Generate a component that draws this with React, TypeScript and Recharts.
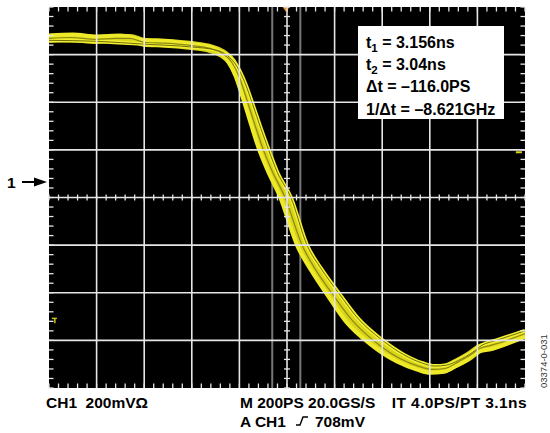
import React from "react";
import {
  ComposedChart,
  Line,
  Scatter,
  XAxis,
  YAxis,
  ReferenceArea,
  ReferenceLine,
} from "recharts";

// Time axis in divisions (200 ps/div), centre = 0; voltage in divisions (200 mV/div)
const xMajor = [-4, -3, -2, -1, 0, 1, 2, 3, 4];
const yMajor = [-3, -2, -1, 0, 1, 2, 3];
const cursorX = [-0.31, 0.28];
const xDivs = 10;
const yDivs = 8;
const minorPerDiv = 5;

// Main envelope of the persisted falling-edge waveform
const traceMain = [
  { x: -5.0, y: 3.34 }, { x: -4.56, y: 3.36 }, { x: -4.01, y: 3.32 }, { x: -3.61, y: 3.34 },
  { x: -3.3, y: 3.34 }, { x: -3.0, y: 3.26 }, { x: -2.56, y: 3.24 }, { x: -2.0, y: 3.19 },
  { x: -1.62, y: 3.13 }, { x: -1.37, y: 3.03 }, { x: -1.16, y: 2.84 }, { x: -0.99, y: 2.5 },
  { x: -0.84, y: 2.04 }, { x: -0.67, y: 1.51 }, { x: -0.5, y: 1.01 }, { x: -0.32, y: 0.57 },
  { x: -0.04, y: 0.0 }, { x: 0.32, y: -1.01 }, { x: 0.61, y: -1.53 }, { x: 0.95, y: -2.02 },
  { x: 1.37, y: -2.58 }, { x: 1.85, y: -3.03 }, { x: 2.37, y: -3.38 }, { x: 2.79, y: -3.55 },
  { x: 3.05, y: -3.61 }, { x: 3.32, y: -3.59 }, { x: 3.53, y: -3.49 }, { x: 3.84, y: -3.32 },
  { x: 4.05, y: -3.17 }, { x: 4.26, y: -3.11 }, { x: 4.47, y: -3.05 }, { x: 4.73, y: -2.96 },
  { x: 5.0, y: -2.86 },
];

// Later acquisitions
const traceLate = [
  { x: -5.0, y: 3.3 }, { x: -4.0, y: 3.28 }, { x: -3.0, y: 3.22 }, { x: -2.0, y: 3.16 },
  { x: -1.5, y: 3.1 }, { x: -1.25, y: 2.98 }, { x: -1.05, y: 2.75 }, { x: -0.88, y: 2.4 },
  { x: -0.72, y: 1.95 }, { x: -0.55, y: 1.45 }, { x: -0.38, y: 0.98 }, { x: -0.2, y: 0.52 },
  { x: 0.08, y: 0.0 }, { x: 0.42, y: -1.0 }, { x: 0.72, y: -1.5 }, { x: 1.08, y: -2.0 },
  { x: 1.5, y: -2.55 }, { x: 1.98, y: -2.98 }, { x: 2.45, y: -3.3 }, { x: 2.85, y: -3.48 },
  { x: 3.1, y: -3.54 }, { x: 3.35, y: -3.52 }, { x: 3.6, y: -3.42 }, { x: 3.9, y: -3.25 },
  { x: 4.1, y: -3.1 }, { x: 4.4, y: -3.0 }, { x: 4.7, y: -2.9 }, { x: 5.0, y: -2.8 },
];

// Earlier acquisitions
const traceEarly = [
  { x: -5.0, y: 3.4 }, { x: -4.5, y: 3.42 }, { x: -4.0, y: 3.38 }, { x: -3.5, y: 3.4 },
  { x: -3.0, y: 3.3 }, { x: -2.5, y: 3.28 }, { x: -2.0, y: 3.22 }, { x: -1.6, y: 3.16 },
  { x: -1.42, y: 3.06 }, { x: -1.25, y: 2.88 }, { x: -1.08, y: 2.55 }, { x: -0.93, y: 2.1 },
  { x: -0.76, y: 1.55 }, { x: -0.6, y: 1.05 }, { x: -0.42, y: 0.6 }, { x: -0.14, y: 0.0 },
  { x: 0.22, y: -1.02 }, { x: 0.52, y: -1.55 }, { x: 0.85, y: -2.05 }, { x: 1.25, y: -2.62 },
  { x: 1.75, y: -3.08 }, { x: 2.3, y: -3.44 }, { x: 2.75, y: -3.62 }, { x: 3.0, y: -3.68 },
  { x: 3.3, y: -3.66 }, { x: 3.5, y: -3.56 }, { x: 3.8, y: -3.4 }, { x: 4.0, y: -3.24 },
  { x: 4.3, y: -3.18 }, { x: 4.6, y: -3.08 }, { x: 5.0, y: -2.92 },
];

const triggerMarks = [{ x: -0.02, y: 4 }];
const levelMarks = [{ x: 4.85, y: 0.95 }];
const refMarks = [{ x: -4.94, y: -2.58 }];

const readouts = ["3.156ns", "3.04ns", "\u2013116.0PS", "\u20138.621GHz"];
const bottomLeft = "CH1  200mV\u03A9";
const bottomMid = "M 200PS 20.0GS/S";
const bottomRight = "IT 4.0PS/PT 3.1ns";
const triggerSrc = "A CH1";
const triggerLevel = "708mV";
const figId = "03374-0-031";

const GRID = "#e6e6e6";
const font = "'Liberation Sans', Arial, Helvetica, sans-serif";

// Plot geometry (shared by the chart margins and the graticule tick overlay)
const W = 550;
const H = 433;
const M = { top: 7, left: 49, right: 25, bottom: 45 };

function GraticuleTicks() {
  const pw = W - M.left - M.right;
  const ph = H - M.top - M.bottom;
  const cx = M.left + pw / 2;
  const cy = M.top + ph / 2;
  const nx = xDivs * minorPerDiv;
  const ny = yDivs * minorPerDiv;
  const edge = 4.5;
  const half = 3;
  const els: React.ReactElement[] = [];
  for (let i = 0; i <= nx; i++) {
    const x = M.left + (i * pw) / nx;
    els.push(<line key={"t" + i} x1={x} x2={x} y1={M.top} y2={M.top + edge} />);
    els.push(<line key={"b" + i} x1={x} x2={x} y1={M.top + ph - edge} y2={M.top + ph} />);
    els.push(<line key={"h" + i} x1={x} x2={x} y1={cy - half} y2={cy + half} />);
  }
  for (let j = 0; j <= ny; j++) {
    const y = M.top + (j * ph) / ny;
    els.push(<line key={"l" + j} x1={M.left} x2={M.left + edge} y1={y} y2={y} />);
    els.push(<line key={"r" + j} x1={M.left + pw - edge} x2={M.left + pw} y1={y} y2={y} />);
    els.push(<line key={"v" + j} x1={cx - half} x2={cx + half} y1={y} y2={y} />);
  }
  return (
    <g stroke={GRID} strokeWidth={1.3}>
      {els}
    </g>
  );
}

export default function App() {
  return (
    <div style={{ position: "absolute", left: 0, top: 0, width: W, height: H, background: "#fff" }}>
      <ComposedChart width={W} height={H} margin={M}>
        <XAxis type="number" dataKey="x" domain={[-5, 5]} allowDataOverflow hide />
        <YAxis type="number" dataKey="y" domain={[-4, 4]} allowDataOverflow hide />
        <ReferenceArea x1={-5} x2={5} y1={-4} y2={4} fill="#000" fillOpacity={1} stroke="none" />
        {cursorX.map((c) => (
          <ReferenceLine key={"c" + c} x={c} stroke="#777" strokeWidth={2} />
        ))}
        <Line data={traceMain} dataKey="y" type="monotone" stroke="#d9d41c" strokeWidth={9} dot={false} isAnimationActive={false} />
        <Line data={traceLate} dataKey="y" type="monotone" stroke="#f2ee30" strokeWidth={4} dot={false} isAnimationActive={false} />
        <Line data={traceEarly} dataKey="y" type="monotone" stroke="#eeea2a" strokeWidth={4} dot={false} isAnimationActive={false} />
        <Line data={traceMain} dataKey="y" type="monotone" stroke="#8c8a10" strokeWidth={1.2} dot={false} isAnimationActive={false} />
        <Line data={traceLate} dataKey="y" type="monotone" stroke="#6f6d0c" strokeWidth={1} dot={false} isAnimationActive={false} />
        {xMajor.map((v) => (
          <ReferenceLine key={"x" + v} x={v} stroke={GRID} strokeWidth={1.6} />
        ))}
        {yMajor.map((v) => (
          <ReferenceLine key={"y" + v} y={v} stroke={GRID} strokeWidth={1.6} />
        ))}
        <Scatter
          data={triggerMarks}
          isAnimationActive={false}
          shape={(p: any) => <polygon points={`${p.cx - 3.5},${p.cy} ${p.cx + 3.5},${p.cy} ${p.cx},${p.cy + 5}`} fill="#e8902c" />}
        />
        <Scatter
          data={levelMarks}
          isAnimationActive={false}
          shape={(p: any) => <line x1={p.cx - 2} y1={p.cy} x2={p.cx + 4} y2={p.cy} stroke="#d8d41c" strokeWidth={2} />}
        />
        <Scatter
          data={refMarks}
          isAnimationActive={false}
          shape={(p: any) => (
            <g stroke="#c8c418" strokeWidth={1.5}>
              <line x1={p.cx} y1={p.cy - 2} x2={p.cx + 5} y2={p.cy - 2} />
              <line x1={p.cx + 3} y1={p.cy - 2} x2={p.cx + 3} y2={p.cy + 3} />
            </g>
          )}
        />
      </ComposedChart>
      <svg width={W} height={H} style={{ position: "absolute", left: 0, top: 0, pointerEvents: "none" }} fontFamily={font}>
        <GraticuleTicks />
        <rect x={358} y={26} width={146} height={93} fill="#fff" />
        <g fontSize={16} fontWeight="bold" fill="#000">
          <text x={366} y={47.5}>
            t<tspan fontSize={11.5} dy={4}>1</tspan>
            <tspan dy={-4}>{" = " + readouts[0]}</tspan>
          </text>
          <text x={366} y={69.5}>
            t<tspan fontSize={11.5} dy={4}>2</tspan>
            <tspan dy={-4}>{" = " + readouts[1]}</tspan>
          </text>
          <text x={366} y={92}>{"\u0394t = " + readouts[2]}</text>
          <text x={366} y={114.5}>{"1/\u0394t = " + readouts[3]}</text>
        </g>
        <g fontSize={15.5} fontWeight="bold" fill="#000">
          <text x={7} y={188}>1</text>
          <text x={46} y={408} style={{ whiteSpace: "pre" }}>{bottomLeft}</text>
          <text x={240} y={408}>{bottomMid}</text>
          <text x={527} y={408} textAnchor="end" letterSpacing={0.4}>{bottomRight}</text>
          <text x={240} y={427}>{triggerSrc}</text>
          <text x={315} y={427}>{triggerLevel}</text>
        </g>
        <line x1={22} y1={182} x2={36} y2={182} stroke="#000" strokeWidth={2} />
        <polygon points="34,177.5 47,182 34,186.5" fill="#000" />
        <polyline points="296,425 300,425 303,417 308,417" fill="none" stroke="#000" strokeWidth={1.4} />
        <text x={0} y={0} fontSize={9.5} fill="#333" transform="translate(547,388) rotate(-90)">{figId}</text>
      </svg>
    </div>
  );
}
